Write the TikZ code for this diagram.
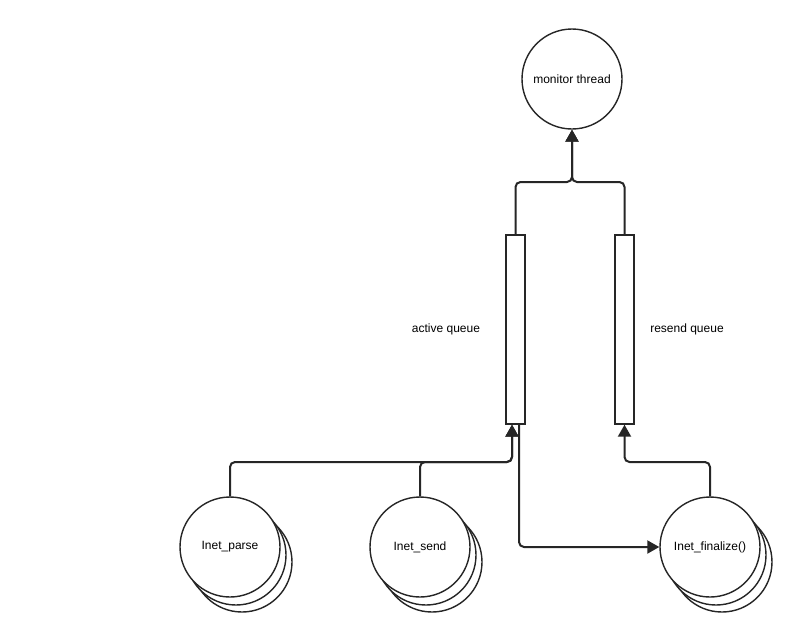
\documentclass[tikz,border=0pt]{standalone}
\usepackage{fontspec}
\setmainfont{Liberation Sans}
\usetikzlibrary{arrows.meta,calc}
\begin{document}
\begin{tikzpicture}[x=1pt,y=-1pt,
 proc/.style={circle,draw=black!85,line width=1.4pt,fill=white,minimum size=100pt,inner sep=0pt,font=\fontsize{12}{14}\selectfont},
 ghost/.style={circle,draw=black!85,line width=1.4pt,fill=white,minimum size=100pt,inner sep=0pt},
 queue/.style={rectangle,draw=black!85,line width=1.4pt,fill=white,minimum width=19pt,minimum height=189pt,inner sep=0pt},
 conn/.style={draw=black!85,line width=2pt,rounded corners=5pt},
 arr/.style={-{Triangle[length=12pt,width=13pt]}},
 lbl/.style={font=\fontsize{12}{14}\selectfont}]
\useasboundingbox (0,0) rectangle (800,633);
\fill[white] (0,0) rectangle (800,633);
% monitor
\node[proc] (mon) at (572,79) {monitor thread};
% queues
\node[queue] (aq) at (515.5,329.5) {};
\node[queue] (rq) at (624.5,329.5) {};
\node[lbl] (aqlbl) at (446,329) {active queue};
\node[lbl] (rqlbl) at (687,329) {resend queue};
% stacked processes
\node[ghost] (parse3) at (242,562) {};
\node[ghost] (parse2) at (236,555) {};
\node[proc] (parse) at (230,547) {Inet\_parse};
\node[ghost] (send3) at (432,562) {};
\node[ghost] (send2) at (426,555) {};
\node[proc] (send) at (420,547) {Inet\_send};
\node[ghost] (fin3) at (722,562) {};
\node[ghost] (fin2) at (716,555) {};
\node[proc] (fin) at (710,547) {Inet\_finalize()};
% helper coordinates
\coordinate (topbus) at (0,182);
\coordinate (botbus) at (0,462);
\coordinate (aqin) at ([xshift=-3.5pt]aq.south);
\coordinate (aqout) at ([xshift=3.5pt]aq.south);
% connectors
\draw[conn,arr] (aq.north) -- (aq.north |- topbus) -- (mon.south |- topbus) -- (mon.south);
\draw[conn,arr] (rq.north) -- (rq.north |- topbus) -- (mon.south |- topbus) -- (mon.south);
\draw[conn,arr] (parse.north) -- (parse.north |- botbus) -- (aqin |- botbus) -- (aqin);
\draw[conn,arr] (send.north) -- (send.north |- botbus) -- (aqin |- botbus) -- (aqin);
\draw[conn,arr] (aqout) -- (aqout |- fin.west) -- (fin.west);
\draw[conn,arr] (fin.north) -- (fin.north |- botbus) -- (rq.south |- botbus) -- (rq.south);
\end{tikzpicture}
\end{document}
